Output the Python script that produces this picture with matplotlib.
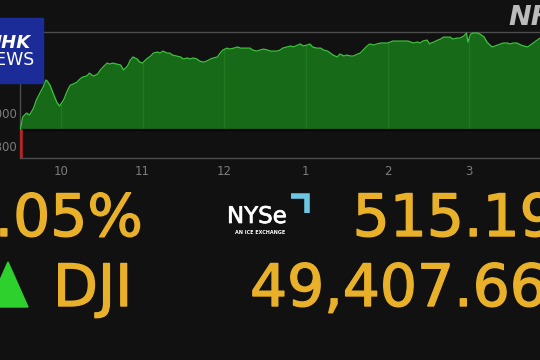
import numpy as np
import matplotlib
matplotlib.use('Agg')
import matplotlib.pyplot as plt
import matplotlib.patheffects as pe
from matplotlib.patches import Rectangle, Polygon
from matplotlib.lines import Line2D

# minutes after 9:30 open, Dow price
minutes = [0, 1, 2, 4, 5, 7, 10, 12, 15, 17,
           19, 20, 22, 24, 27, 29, 32, 35, 37, 39,
           42, 44, 46, 49, 51, 54, 57, 59, 61, 64,
           66, 68, 71, 74, 76, 79, 81, 83, 86, 88,
           90, 93, 96, 98, 101, 103, 105, 108, 110, 112,
           115, 118, 120, 123, 125, 127, 130, 132, 135, 137,
           140, 142, 145, 147, 149, 152, 154, 157, 160, 162,
           164, 167, 169, 171, 174, 176, 179, 182, 184, 186,
           189, 191, 193, 196, 199, 201, 204, 206, 208, 211,
           213, 215, 218, 221, 223, 226, 228, 230, 233, 235,
           238, 240, 243, 245, 248, 250, 252, 255, 257, 260,
           262, 265, 267, 270, 272, 274, 277, 279, 282, 285,
           287, 289, 292, 294, 296, 299, 301, 302, 304, 307,
           309, 311, 313, 316, 318, 321, 323, 326, 328, 329,
           331, 333, 336, 338, 341, 343, 346, 347, 351, 353,
           355, 358, 360, 362, 365, 368, 370, 373, 375, 377,
           380, 382]
price = [48892, 48931, 48974, 48992, 48998, 48986, 49029, 49077, 49126, 49156,
         49199, 49193, 49168, 49126, 49065, 49041, 49077, 49138, 49168, 49174,
         49187, 49205, 49217, 49223, 49241, 49223, 49235, 49260, 49278, 49302,
         49296, 49302, 49296, 49290, 49260, 49284, 49320, 49339, 49327, 49308,
         49302, 49327, 49345, 49363, 49369, 49363, 49375, 49363, 49363, 49351,
         49345, 49339, 49327, 49333, 49327, 49333, 49327, 49314, 49308, 49314,
         49327, 49333, 49339, 49363, 49381, 49393, 49387, 49393, 49400, 49393,
         49393, 49393, 49393, 49381, 49375, 49381, 49387, 49381, 49375, 49375,
         49375, 49381, 49393, 49400, 49406, 49400, 49412, 49418, 49406, 49412,
         49418, 49400, 49393, 49393, 49381, 49375, 49363, 49351, 49339, 49357,
         49345, 49351, 49345, 49345, 49357, 49363, 49381, 49406, 49418, 49412,
         49418, 49424, 49424, 49424, 49430, 49436, 49436, 49436, 49436, 49436,
         49430, 49424, 49430, 49424, 49436, 49442, 49418, 49424, 49430, 49442,
         49448, 49460, 49460, 49460, 49448, 49454, 49454, 49466, 49485, 49430,
         49478, 49485, 49485, 49478, 49460, 49430, 49406, 49400, 49412, 49418,
         49424, 49424, 49418, 49424, 49424, 49412, 49406, 49400, 49412, 49424,
         49442, 49454]
prev_close = 48892.47
hour_ticks = [30, 90, 150, 210, 270, 330]
hour_labels = ['10', '11', '12', '1', '2', '3']
y_ticks = [48800, 49000]
y_labels = ['48,800', '49,000']

pct_text = '1.05%'
chg_text = '515.19'
idx_name = 'DJI'
idx_value = '49,407.66'

bg = '#111111'
gold = '#e9b12a'
W, H = 540, 360


def fx(x):
    return x / W


def fy(y):
    return 1 - y / H


fig = plt.figure(figsize=(5.4, 3.6), dpi=100, facecolor=bg)
ax = fig.add_axes([fx(20), fy(158), fx(520), 126 / H])
ax.set_facecolor(bg)

t = np.array(minutes)
p = np.array(price)
ax.fill_between(t, p, prev_close, color='#176a17', lw=0, zorder=2)
ax.plot(t, p, color='#3fc43f', lw=0.9, zorder=4)
# faint hour lines inside the fill
ax.vlines(hour_ticks, prev_close, np.interp(hour_ticks, t, p),
          color='#1f7a1f', lw=1, zorder=3)
ax.axhline(prev_close, color='#050505', lw=1.6, zorder=3)
ax.plot([0.6, 0.6], [48725, prev_close], color='#c81e1e', lw=1.8, zorder=5)

ax.set_xlim(0, 382)
ax.set_ylim(48725, 49491)
ax.spines['right'].set_visible(False)
for s in ['top', 'bottom', 'left']:
    ax.spines[s].set_color('#4d4d4d')
    ax.spines[s].set_linewidth(1)
ax.set_xticks(hour_ticks)
ax.set_xticklabels(hour_labels)
ax.set_yticks(y_ticks)
ax.set_yticklabels(y_labels)
ax.tick_params(length=0, colors='#7c7c7c', labelsize=8.5)
ax.tick_params(axis='x', pad=5)
ax.tick_params(axis='y', pad=2)

# NHK NEWS box
fig.add_artist(Rectangle((fx(-2), fy(83)), fx(45), 65 / H,
                         transform=fig.transFigure, color='#1b2b98', zorder=10))
fig.text(fx(31), fy(48), 'NHK', color='white', fontsize=13, fontweight='bold',
         style='italic', ha='right', va='baseline', zorder=11)
fig.text(fx(34), fy(65), 'NEWS', color='white', fontsize=12.5,
         ha='right', va='baseline', zorder=11)
fig.text(fx(508), fy(25), 'NHK', color='#cfcfcf', fontsize=19.5, fontweight='bold',
         style='italic', ha='left', va='baseline', alpha=0.9, zorder=11)

# big numbers, regular face thickened a little with a stroke
thick = [pe.withStroke(linewidth=1.0, foreground=gold)]
big = dict(color=gold, fontsize=42, va='baseline', path_effects=thick)
fig.text(fx(143), fy(236), pct_text, ha='right', **big)
fig.text(fx(557), fy(236), chg_text, ha='right', **big)
fig.text(fx(53), fy(306), idx_name, ha='left', **big)
fig.text(fx(250), fy(306), idx_value, ha='left', **big)
fig.add_artist(Polygon([(fx(-12), fy(307)), (fx(28), fy(307)), (fx(8), fy(262))],
                       closed=True, transform=fig.transFigure, color='#2ed02e'))

# NYSE logo
fig.text(fx(227), fy(223), 'NYSe', color='white', fontsize=16.5,
         ha='left', va='baseline',
         path_effects=[pe.withStroke(linewidth=0.5, foreground='white')])
fig.text(fx(260), fy(234), 'AN ICE EXCHANGE', color='white', fontsize=3.5,
         fontweight='bold', ha='center', va='baseline')
fig.add_artist(Line2D([fx(291), fx(307), fx(307)], [fy(196), fy(196), fy(213)],
                      transform=fig.transFigure, color='#6cc6e2', lw=4,
                      solid_joinstyle='miter', solid_capstyle='butt'))

fig.savefig('out.png', dpi=100, facecolor=bg)
